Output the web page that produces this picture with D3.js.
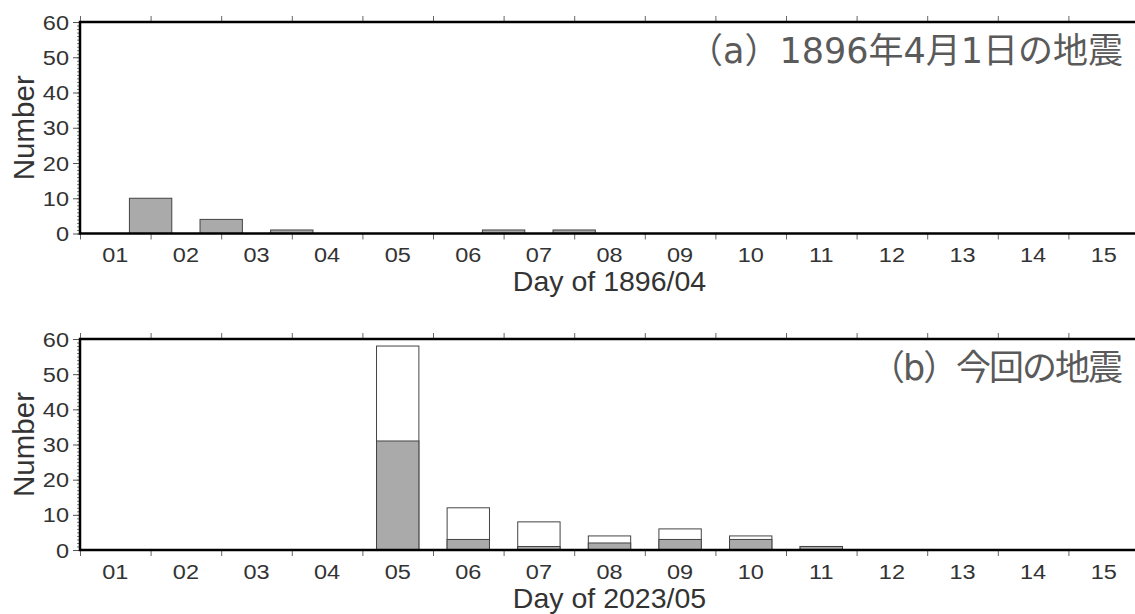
<!DOCTYPE html>
<html>
<head>
<meta charset="utf-8">
<script src="https://cdn.jsdelivr.net/npm/d3@7"></script>
<style>
  body { margin: 0; background: #fff; }
  text { font-family: "Liberation Sans", Arial, sans-serif; }
</style>
</head>
<body>
<div id="chart"></div>
<script>
// day labels shared by both panels
const dayLabels = ["01", "02", "03", "04", "05", "06", "07", "08", "09", "10", "11", "12", "13", "14", "15"];
const yTicks = [0, 10, 20, 30, 40, 50, 60];

// (a) 1896 event: bins centred on day boundaries
const days1896 = [1.5, 2.5, 3.5, 6.5, 7.5];
const counts1896 = [10, 4, 1, 1, 1];

// (b) 2023 event: total (white) and gray part
const days2023 = [5, 6, 7, 8, 9, 10, 11];
const total2023 = [58, 12, 8, 4, 6, 4, 1];
const gray2023 = [31, 3, 1, 2, 3, 3, 1];

const width = 1135;
const height = 614;
const left = 80, right = 1139;
const stretch = 1.12; // tick labels look a bit wide in the original

const svg = d3.select("#chart")
    .append("svg")
    .attr("width", width)
    .attr("height", height);

const x = d3.scaleLinear()
    .domain([0.5, 15.5])
    .range([left, right]);

const boundaries = d3.range(0.5, 15.6, 1);

function drawPanel(top, bottom, opts) {
    const y = d3.scaleLinear()
        .domain([0, 60])
        .range([bottom, top]);

    const g = svg.append("g");

    // bars
    if (opts.total) {
        g.selectAll("rect.total")
            .data(opts.days)
            .enter()
            .append("rect")
            .attr("class", "total")
            .attr("x", d => x(d - 0.3))
            .attr("width", x(0.6) - x(0))
            .attr("y", (d, i) => y(opts.total[i]))
            .attr("height", (d, i) => y(0) - y(opts.total[i]))
            .attr("fill", "#fff")
            .attr("stroke", "#444")
            .attr("stroke-width", 1);
    }
    g.selectAll("rect.gray")
        .data(opts.days)
        .enter()
        .append("rect")
        .attr("class", "gray")
        .attr("x", d => x(d - 0.3))
        .attr("width", x(0.6) - x(0))
        .attr("y", (d, i) => y(opts.counts[i]))
        .attr("height", (d, i) => y(0) - y(opts.counts[i]))
        .attr("fill", "#aaaaaa")
        .attr("stroke", "#444")
        .attr("stroke-width", 1);

    // x ticks, bottom and top
    g.append("g")
        .attr("transform", `translate(0, ${bottom})`)
        .call(d3.axisBottom(x).tickValues(boundaries).tickSize(6).tickFormat(""))
        .call(a => a.select(".domain").remove())
        .call(a => a.selectAll("line").attr("stroke", "#666"));
    g.append("g")
        .attr("transform", `translate(0, ${top})`)
        .call(d3.axisTop(x).tickValues(boundaries).tickSize(6).tickFormat(""))
        .call(a => a.select(".domain").remove())
        .call(a => a.selectAll("line").attr("stroke", "#666"));

    // x labels between ticks
    g.selectAll("text.day")
        .data(dayLabels)
        .enter()
        .append("text")
        .attr("class", "day")
        .attr("transform", (d, i) => `translate(${x(i + 1)}, ${bottom + 28.5}) scale(${stretch}, 1)`)
        .attr("text-anchor", "middle")
        .attr("font-size", 21)
        .attr("fill", "#333")
        .text(d => d);

    // y minor + major ticks
    g.append("g")
        .attr("transform", `translate(${left}, 0)`)
        .call(d3.axisLeft(y).tickValues(d3.range(0, 61, 1)).tickSize(3).tickFormat(""))
        .call(a => a.select(".domain").remove())
        .call(a => a.selectAll("line").attr("stroke", "#777"));
    g.append("g")
        .attr("transform", `translate(${left}, 0)`)
        .call(d3.axisLeft(y).tickValues(yTicks).tickSize(7).tickFormat(""))
        .call(a => a.select(".domain").remove())
        .call(a => a.selectAll("line").attr("stroke", "#555"));

    g.selectAll("text.ylab")
        .data(yTicks)
        .enter()
        .append("text")
        .attr("class", "ylab")
        .attr("transform", d => `translate(${left - 11}, ${y(d) + 7.5}) scale(${stretch}, 1)`)
        .attr("text-anchor", "end")
        .attr("font-size", 21)
        .attr("fill", "#333")
        .text(d => d);

    // frame
    g.append("path")
        .attr("d", `M${right},${top}H${left}V${bottom}H${right}`)
        .attr("fill", "none")
        .attr("stroke", "#000")
        .attr("stroke-width", 2.5);

    // axis titles
    g.append("text")
        .attr("x", (left + right) / 2)
        .attr("y", bottom + 57.5)
        .attr("text-anchor", "middle")
        .attr("font-size", 28.5)
        .attr("fill", "#333")
        .text(opts.xTitle);

    g.append("text")
        .attr("transform", `translate(34, ${(top + bottom) / 2}) rotate(-90)`)
        .attr("text-anchor", "middle")
        .attr("font-size", 29.5)
        .attr("fill", "#333")
        .text("Number");

    // panel label
    g.append("text")
        .attr("x", 1123)
        .attr("y", top + 41)
        .attr("text-anchor", "end")
        .style("font-family", "'DejaVu Sans', 'Noto Sans CJK JP', sans-serif")
        .attr("font-size", 35)
        .attr("textLength", opts.labelLength)
        .attr("lengthAdjust", "spacing")
        .attr("fill", "#5a5a5a")
        .text(opts.label);
}

drawPanel(22, 233.5, {
    days: days1896,
    counts: counts1896,
    xTitle: "Day of 1896/04",
    label: "（a）1896年4月1日の地震",
    labelLength: 435
});

drawPanel(339, 550, {
    days: days2023,
    counts: gray2023,
    total: total2023,
    xTitle: "Day of 2023/05",
    label: "（b）今回の地震",
    labelLength: 253
});
</script>
</body>
</html>
